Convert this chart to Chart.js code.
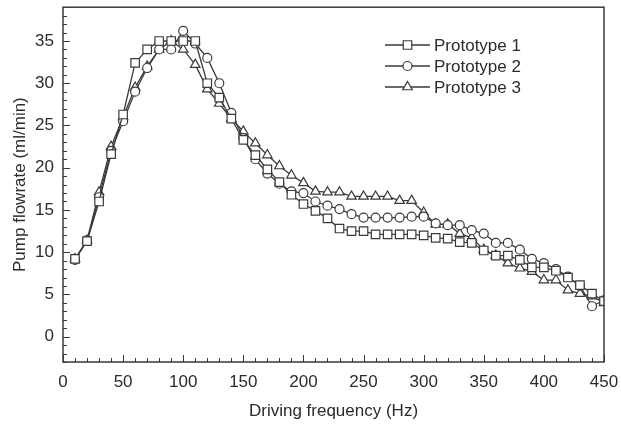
<!DOCTYPE html>
<html>
<head>
<meta charset="utf-8">
<script src="https://cdn.jsdelivr.net/npm/chart.js@4.4.1/dist/chart.umd.min.js"></script>
<style>
  html, body { margin: 0; padding: 0; background: #fff; }
  #wrap { width: 621px; height: 430px; }
</style>
</head>
<body>
<div id="wrap"><canvas id="pumpChart"></canvas></div>
<script>
// --- data ---
const freqs = [10, 20, 30, 40, 50, 60, 70, 80, 90, 100,
  110, 120, 130, 140, 150, 160, 170, 180, 190, 200,
  210, 220, 230, 240, 250, 260, 270, 280, 290, 300,
  310, 320, 330, 340, 350, 360, 370, 380, 390, 400,
  410, 420, 430, 440, 450];

const proto1 = [9.2, 11.3, 16.0, 21.6, 26.3, 32.4, 34.0, 35.0, 35.0, 35.0,
  35.0, 30.0, 28.3, 25.8, 23.3, 21.5, 19.8, 18.3, 16.8, 15.7,
  14.9, 14.0, 12.8, 12.5, 12.5, 12.1, 12.1, 12.1, 12.1, 12.0,
  11.7, 11.6, 11.2, 11.1, 10.2, 9.6, 9.6, 9.1, 8.2, 8.2,
  7.8, 7.0, 6.1, 5.1, 4.2];

const proto2 = [9.1, 11.4, 16.5, 22.0, 25.5, 29.0, 31.8, 34.0, 34.0, 36.2,
  34.7, 33.0, 30.0, 26.5, 23.5, 21.0, 19.3, 18.1, 17.2, 17.0,
  16.0, 15.5, 15.1, 14.5, 14.1, 14.1, 14.1, 14.1, 14.2, 14.2,
  13.4, 13.2, 13.2, 12.6, 12.2, 11.1, 11.1, 10.3, 9.2, 8.7,
  8.0, 7.1, 6.0, 3.6, 4.3];

const proto3 = [9.2, 11.4, 17.1, 22.5, 26.0, 29.5, 32.0, 34.0, 35.0, 34.0,
  32.2, 29.3, 27.6, 25.8, 24.3, 22.9, 21.5, 20.2, 19.1, 18.2,
  17.2, 17.1, 17.1, 16.6, 16.6, 16.6, 16.6, 16.1, 16.1, 14.7,
  13.3, 13.3, 12.2, 11.7, 10.3, 9.6, 8.7, 8.1, 7.7, 6.7,
  6.7, 5.5, 5.1, 4.8, 4.0];

const seriesNames = ['Prototype 1', 'Prototype 2', 'Prototype 3'];
const xTicks = [0, 50, 100, 150, 200, 250, 300, 350, 400, 450];
const yTicks = [0, 5, 10, 15, 20, 25, 30, 35];

const ink = '#3a3a3a';
const textInk = '#2b2b2b';

const toPoints = (vals) => freqs.map((f, i) => ({ x: f, y: vals[i] }));

const makeSet = (label, vals, style, radius) => ({
  label: label,
  data: toPoints(vals),
  borderColor: ink,
  borderWidth: 1.3,
  backgroundColor: '#ffffff',
  pointStyle: style,
  pointRadius: radius,
  pointBorderWidth: 1.2,
  pointBorderColor: ink,
  pointBackgroundColor: '#ffffff',
  tension: 0,
  fill: false
});

// frame box + inward ticks (major and minor)
const framePlugin = {
  id: 'frame',
  afterDraw(chart) {
    const { ctx, chartArea: a, scales } = chart;
    const xs = scales.x, ys = scales.y;
    ctx.save();
    ctx.strokeStyle = ink;
    ctx.lineWidth = 1.5;
    ctx.strokeRect(a.left, a.top, a.right - a.left, a.bottom - a.top);
    ctx.lineWidth = 1;
    ctx.beginPath();
    for (let v = 0; v <= 450; v += 10) {
      const px = Math.round(xs.getPixelForValue(v)) + 0.5;
      const len = v % 50 === 0 ? 7 : 4;
      ctx.moveTo(px, a.bottom);
      ctx.lineTo(px, a.bottom - len);
    }
    for (let v = -3; v <= 39; v += 1) {
      const py = Math.round(ys.getPixelForValue(v)) + 0.5;
      const len = v % 5 === 0 ? 7 : 4;
      ctx.moveTo(a.left, py);
      ctx.lineTo(a.left + len, py);
    }
    ctx.stroke();
    ctx.restore();
  }
};

// legend drawn as line + marker + label, like the original figure
const legendPlugin = {
  id: 'lineLegend',
  afterDraw(chart) {
    const { ctx } = chart;
    const x0 = 385, x1 = 430, rows = [45, 66, 87];
    ctx.save();
    ctx.font = '17px "Liberation Sans", Arial, sans-serif';
    ctx.textBaseline = 'middle';
    ctx.fillStyle = textInk;
    chart.data.datasets.forEach((ds, i) => {
      const y = rows[i];
      ctx.strokeStyle = ink;
      ctx.lineWidth = 1.3;
      ctx.beginPath();
      ctx.moveTo(x0, y);
      ctx.lineTo(x1, y);
      ctx.stroke();
      ctx.fillStyle = '#ffffff';
      ctx.lineWidth = 1.2;
      Chart.helpers.drawPoint(ctx, {
        pointStyle: ds.pointStyle,
        radius: ds.pointRadius,
        borderWidth: 1.2
      }, (x0 + x1) / 2, y);
      ctx.fillStyle = textInk;
      ctx.fillText(ds.label, x1 + 4, y + 1);
    });
    ctx.restore();
  }
};

const fontFamily = '"Liberation Sans", Arial, sans-serif';

new Chart(document.getElementById('pumpChart'), {
  type: 'line',
  data: {
    datasets: [
      makeSet(seriesNames[0], proto1, 'rect', 6),
      makeSet(seriesNames[1], proto2, 'circle', 4.5),
      makeSet(seriesNames[2], proto3, 'triangle', 5.5)
    ]
  },
  options: {
    responsive: true,
    maintainAspectRatio: false,
    animation: false,
    layout: { padding: { top: 5, right: 17, left: 0, bottom: 0 } },
    plugins: {
      legend: { display: false },
      tooltip: { enabled: false }
    },
    scales: {
      x: {
        type: 'linear',
        min: 0,
        max: 450,
        afterBuildTicks: (scale) => { scale.ticks = xTicks.map(v => ({ value: v })); },
        afterFit: (scale) => {
          scale.height = 68;
          scale.paddingLeft = 0;
          scale.paddingRight = 0;
        },
        grid: { display: false, drawTicks: false },
        border: { display: false },
        ticks: {
          padding: 10,
          maxRotation: 0,
          color: textInk,
          font: { family: fontFamily, size: 17 }
        },
        title: {
          display: true,
          text: 'Driving frequency (Hz)',
          color: textInk,
          font: { family: fontFamily, size: 17 },
          padding: { top: 0, bottom: 8 }
        }
      },
      y: {
        type: 'linear',
        min: -3,
        max: 39,
        afterBuildTicks: (scale) => { scale.ticks = yTicks.map(v => ({ value: v })); },
        afterFit: (scale) => {
          scale.width = 63;
          scale.paddingTop = 0;
          scale.paddingBottom = 0;
        },
        grid: { display: false, drawTicks: false },
        border: { display: false },
        ticks: {
          padding: 9,
          color: textInk,
          font: { family: fontFamily, size: 17 }
        },
        title: {
          display: true,
          text: 'Pump flowrate (ml/min)',
          color: textInk,
          font: { family: fontFamily, size: 17 },
          padding: { top: 10, bottom: 0 }
        }
      }
    }
  },
  plugins: [framePlugin, legendPlugin]
});
</script>
</body>
</html>
